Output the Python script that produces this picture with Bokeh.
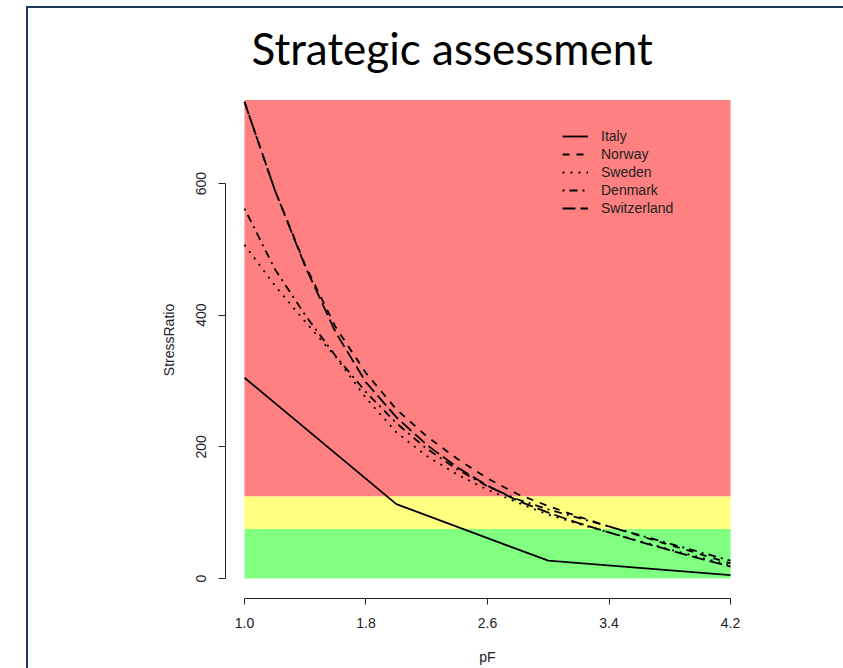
from bokeh.plotting import figure
from bokeh.models import (Legend, LegendItem, FixedTicker, InlineStyleSheet,
                          ColumnDataSource, Range1d)
from bokeh.embed import file_html
from bokeh.resources import INLINE

# ---------------- data ----------------
pF = [1.0, 1.2, 1.4, 1.6, 1.8, 2.0, 2.2, 2.4, 2.6, 2.8, 3.0, 3.2, 3.4, 3.6, 3.8, 4.0, 4.2]
italy_pF = [1.0, 2.0, 3.0, 4.2]
italy = [305, 113, 27, 5]
norway = [724, 590, 476, 382, 312, 257, 216, 182, 152, 128, 110, 94, 79, 65, 51, 37, 23]
sweden = [507, 445, 390, 337, 274, 222, 186, 158, 135, 115, 97, 83, 70, 57, 44, 32, 20]
denmark = [562, 470, 400, 338, 283, 236, 197, 166, 140, 120, 105, 92, 79, 66, 53, 40, 27]
switzerland = [724, 590, 474, 374, 298, 245, 203, 169, 141, 118, 100, 84, 70, 56, 43, 30, 18]

zone_low = [0, 75, 125]
zone_high = [75, 125, 727]
zone_colors = ["#80FF80", "#FFFF80", "#FF8080"]

x_ticks = [1.0, 1.8, 2.6, 3.4, 4.2]
x_tick_labels = ["1.0", "1.8", "2.6", "3.4", "4.2"]
y_ticks = [0, 200, 400, 600]
y_tick_labels = ["0", "200", "400", "600"]

title_text = "Strategic assessment"
x_label = "pF"
y_label = "StressRatio"

# ---------------- figure ----------------
p = figure(width=835, height=668, output_backend="svg", toolbar_location=None,
           x_range=Range1d(0.875, 4.325), y_range=Range1d(-30.4, 755.0),
           min_border_left=225, min_border_right=86, min_border_top=81, min_border_bottom=70)
p.background_fill_color = "white"
p.border_fill_color = "white"
p.outline_line_color = None
p.grid.visible = False

p.title.text = title_text
p.title.text_font = "Lato"
p.title.text_font_size = "44px"
p.title.text_font_style = "normal"
p.title.text_color = "black"
p.title.align = "left"
p.title.offset = 26
p.title.standoff = 16

# colored zones
zones = ColumnDataSource(dict(
    left=[min(pF)] * len(zone_low), right=[max(pF)] * len(zone_low),
    bottom=zone_low, top=zone_high, color=zone_colors))
p.quad(left="left", right="right", bottom="bottom", top="top", fill_color="color",
       line_color=None, source=zones)

lw = 1.8
r_italy = p.line(italy_pF, italy, line_color="black", line_width=lw)
r_norway = p.line(pF, norway, line_color="black", line_width=lw, line_dash="7 7")
r_sweden = p.line(pF, sweden, line_color="black", line_width=lw, line_dash="2 6")
r_denmark = p.line(pF, denmark, line_color="black", line_width=lw, line_dash="2 5 8 5")
r_switz = p.line(pF, switzerland, line_color="black", line_width=lw, line_dash="13 5")

# axes
font = "Liberation Sans"
for ax in (p.xaxis[0], p.yaxis[0]):
    ax.axis_line_color = "#222222"
    ax.major_tick_line_color = "#222222"
    ax.minor_tick_line_color = None
    ax.major_tick_in = 0
    ax.major_label_text_font = font
    ax.major_label_text_font_size = "14px"
    ax.major_label_text_color = "#222222"
    ax.axis_label_text_font = font
    ax.axis_label_text_font_size = "14px"
    ax.axis_label_text_font_style = "normal"
    ax.axis_label_text_color = "#222222"

p.xaxis.bounds = (x_ticks[0], x_ticks[-1])
p.xaxis.ticker = FixedTicker(ticks=x_ticks)
p.xaxis.major_label_overrides = dict(zip(x_ticks, x_tick_labels))
p.xaxis.major_tick_out = 6
p.xaxis.major_label_standoff = 13
p.xaxis.axis_label = x_label
p.xaxis.axis_label_standoff = 18

p.yaxis.bounds = (y_ticks[0], y_ticks[-1])
p.yaxis.ticker = FixedTicker(ticks=y_ticks)
p.yaxis.major_label_overrides = dict(zip(y_ticks, y_tick_labels))
p.yaxis.major_tick_out = 7
p.yaxis.major_label_standoff = 12
p.yaxis.major_label_orientation = "vertical"
p.yaxis.axis_label = y_label
p.yaxis.axis_label_standoff = 17

# legend
legend = Legend(items=[
    LegendItem(label="Italy", renderers=[r_italy]),
    LegendItem(label="Norway", renderers=[r_norway]),
    LegendItem(label="Sweden", renderers=[r_sweden]),
    LegendItem(label="Denmark", renderers=[r_denmark]),
    LegendItem(label="Switzerland", renderers=[r_switz]),
], location=(337, 381))
legend.background_fill_alpha = 0
legend.border_line_color = None
legend.padding = 0
legend.margin = 0
legend.spacing = 0
legend.glyph_width = 26
legend.glyph_height = 18
legend.label_height = 18
legend.label_standoff = 13
legend.label_text_font = font
legend.label_text_font_size = "14px"
legend.label_text_color = "#222222"
p.add_layout(legend)

# slide border (decorative frame of the source slide)
p.stylesheets = [InlineStyleSheet(css="""
:host::after {
  content: "";
  position: absolute;
  left: 26px; top: 6px; width: 817px; height: 662px;
  box-sizing: border-box;
  border-left: 2.5px solid #1F3A5C;
  border-top: 2.5px solid #1F3A5C;
  pointer-events: none;
}
""")]

open("out.html", "w").write(file_html(p, INLINE))
